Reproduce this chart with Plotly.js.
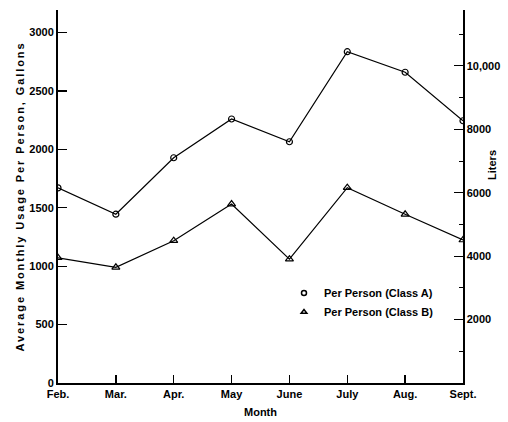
<!DOCTYPE html>
<html>
<head>
<meta charset="utf-8">
<script src="https://cdn.plot.ly/plotly-3.0.1.min.js"></script>
<style>html,body{margin:0;padding:0;background:#fff;}#chart{width:508px;height:422px;}</style>
</head>
<body>
<div id="chart"></div>
<script>
const months = ["Feb.", "Mar.", "Apr.", "May", "June", "July", "Aug.", "Sept."];
const classA = [1670, 1445, 1928, 2260, 2065, 2836, 2660, 2245];
const classB = [1072, 990, 1218, 1532, 1060, 1672, 1444, 1224];
const galTicks = [0, 500, 1000, 1500, 2000, 2500, 3000];
const literTicks = [2000, 4000, 6000, 8000, 10000];
const literTickText = ["2000", "4000", "6000", "8000", "10,000"];
const LITERS_PER_GALLON = 3.785;

const F = {family: "Liberation Sans, Arial, sans-serif", size: 11, color: "#000", weight: "bold"};
const idx = months.map((m, i) => i);

const galTop = 3193;
const domTop2 = (383 - 20) / 373;
const galTop2 = galTop * domTop2;

const traces = [
  {x: idx, y: classA, mode: "lines+markers", showlegend: false,
   line: {color: "#000", width: 1.2},
   marker: {symbol: "circle-open", size: 6, color: "#000", line: {width: 1.2}}},
  {x: idx, y: classB, mode: "lines+markers", showlegend: false,
   line: {color: "#000", width: 1.2},
   marker: {symbol: "triangle-up-open", size: 7, color: "#000", line: {width: 1.2}}},
  {x: [null], y: [null], mode: "markers", name: "Per Person (Class A)",
   marker: {symbol: "circle-open", size: 5, color: "#000", line: {width: 1.5}}},
  {x: [null], y: [null], mode: "markers", name: "Per Person (Class B)",
   marker: {symbol: "triangle-up-open", size: 5, color: "#000", line: {width: 1.5}}},
  {x: [0], y: [0], yaxis: "y2", mode: "markers", showlegend: false, hoverinfo: "skip",
   marker: {opacity: 0}}
];

const layout = {
  width: 508, height: 422,
  margin: {l: 58, r: 45, t: 10, b: 39},
  paper_bgcolor: "#fff", plot_bgcolor: "#fff",
  font: F,
  showlegend: true,
  legend: {x: 0.558, y: 0.28, xanchor: "left", yanchor: "top", bgcolor: "rgba(0,0,0,0)",
           font: F, tracegroupgap: 0, itemwidth: 30},
  xaxis: {
    range: [0, 7], tickvals: idx, ticktext: months,
    ticks: "inside", ticklen: 8, tickwidth: 1.5, tickcolor: "#000",
    showline: true, linecolor: "#000", linewidth: 2, showgrid: false, zeroline: false,
    tickfont: F, fixedrange: true,
    title: {text: "Month", font: F, standoff: 9}
  },
  yaxis: {
    range: [0, galTop], tickvals: galTicks,
    ticks: "inside", ticklen: 9, tickwidth: 1.2, tickcolor: "#000",
    showline: true, linecolor: "#000", linewidth: 2, showgrid: false, zeroline: false,
    tickfont: F, fixedrange: true,
    title: {text: "Average Monthly Usage Per Person, Gallons", font: F, standoff: 2}
  },
  yaxis2: {
    overlaying: "y", side: "right", anchor: "x",
    domain: [0, domTop2],
    range: [0, galTop2 * LITERS_PER_GALLON], tickvals: literTicks, ticktext: literTickText,
    ticks: "inside", ticklen: 9, tickwidth: 1.2, tickcolor: "#000",
    minor: {dtick: 1000, tick0: 1000, ticks: "inside", ticklen: 4, tickwidth: 1, tickcolor: "#000"},
    showline: true, linecolor: "#000", linewidth: 1.5, showgrid: false, zeroline: false,
    tickfont: F, fixedrange: true
  },
  annotations: [
    {text: "Liters", xref: "paper", yref: "paper", x: 1.072, y: 0.585, textangle: -90,
     showarrow: false, font: F, xanchor: "center", yanchor: "middle"}
  ]
};

Plotly.newPlot("chart", traces, layout, {displayModeBar: false, staticPlot: true}).then(function (gd) {
  const t = gd.querySelector(".ytitle");
  if (t) t.style.letterSpacing = "1.9px";
});
</script>
</body>
</html>
